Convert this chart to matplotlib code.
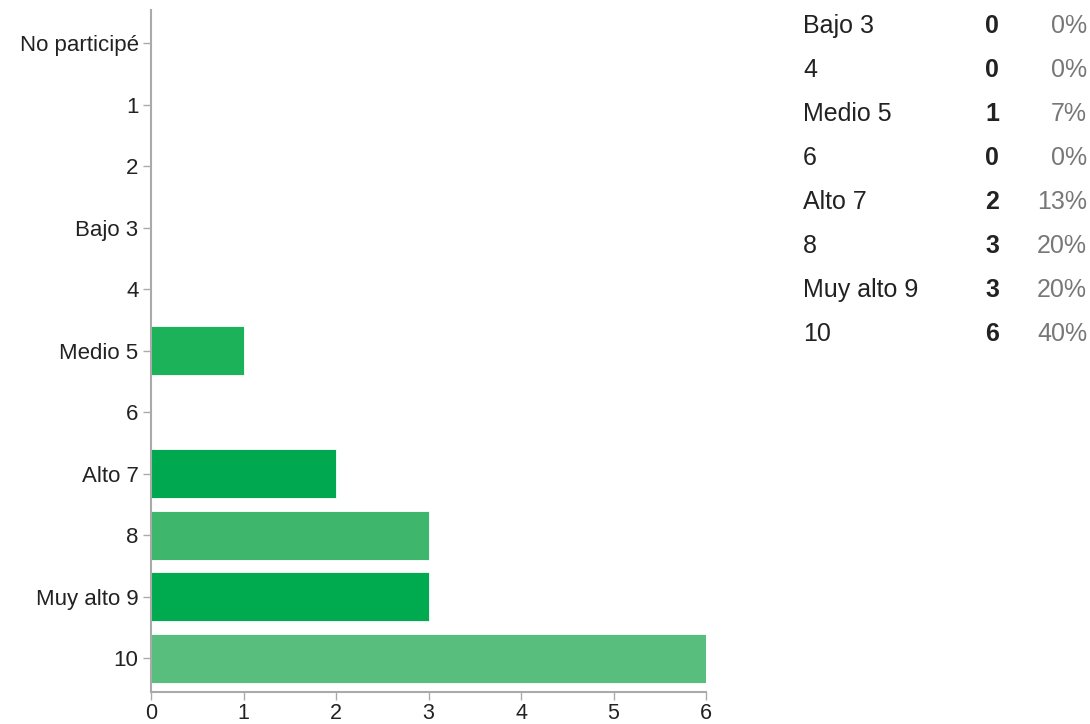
import matplotlib.pyplot as plt

plt.rcParams['font.family'] = ['Liberation Sans', 'DejaVu Sans']

categories = ['No participé', '1', '2', 'Bajo 3', '4', 'Medio 5', '6',
              'Alto 7', '8', 'Muy alto 9', '10']
counts = [0, 0, 0, 0, 0, 1, 0, 2, 3, 3, 6]
bar_colors = ['#58be7d', '#00aa4f', '#3eb66c', '#00aa4f', '#58be7d', '#1bb25a',
              '#3eb66c', '#00a850', '#3eb66c', '#00aa4f', '#58be7d']

table_labels = ['Bajo 3', '4', 'Medio 5', '6', 'Alto 7', '8', 'Muy alto 9', '10']
table_counts = [0, 0, 1, 0, 2, 3, 3, 6]
table_pcts = ['0%', '0%', '7%', '0%', '13%', '20%', '20%', '40%']

W, H = 1090, 724
fig = plt.figure(figsize=(W / 100, H / 100), dpi=100)
ax = fig.add_axes([151 / W, 1 - 692 / H, (706 - 151) / W, (692 - 10) / H])

ypos = list(range(len(categories)))
ax.barh(ypos, counts, height=0.8, color=bar_colors, edgecolor='white', linewidth=0.6)
ax.set_ylim(10.55, -0.54)
ax.set_xlim(0, 6)
ax.set_yticks(ypos)
ax.set_yticklabels(categories)
ax.set_xticks(range(7))

for s in ['top', 'right']:
    ax.spines[s].set_visible(False)
for s in ['left', 'bottom']:
    ax.spines[s].set_color('#aaaaaa')
    ax.spines[s].set_linewidth(1.5)
ax.tick_params(axis='both', colors='#aaaaaa', length=6, width=1, labelcolor='#222222')
ax.tick_params(axis='y', labelsize=16, pad=3)
ax.tick_params(axis='x', labelsize=15.5, pad=2)

def px(x, y):
    return x / W, 1 - y / H

for i, (lab, c, p) in enumerate(zip(table_labels, table_counts, table_pcts)):
    y = 26 + 44 * i
    fig.text(*px(803, y), lab, fontsize=18, color='#222222', va='center', ha='left')
    fig.text(*px(999, y), str(c), fontsize=18, color='#222222', fontweight='bold',
             va='center', ha='right')
    fig.text(*px(1087, y), p, fontsize=18, color='#777777', va='center', ha='right')

fig.savefig('out.png', dpi=100)
